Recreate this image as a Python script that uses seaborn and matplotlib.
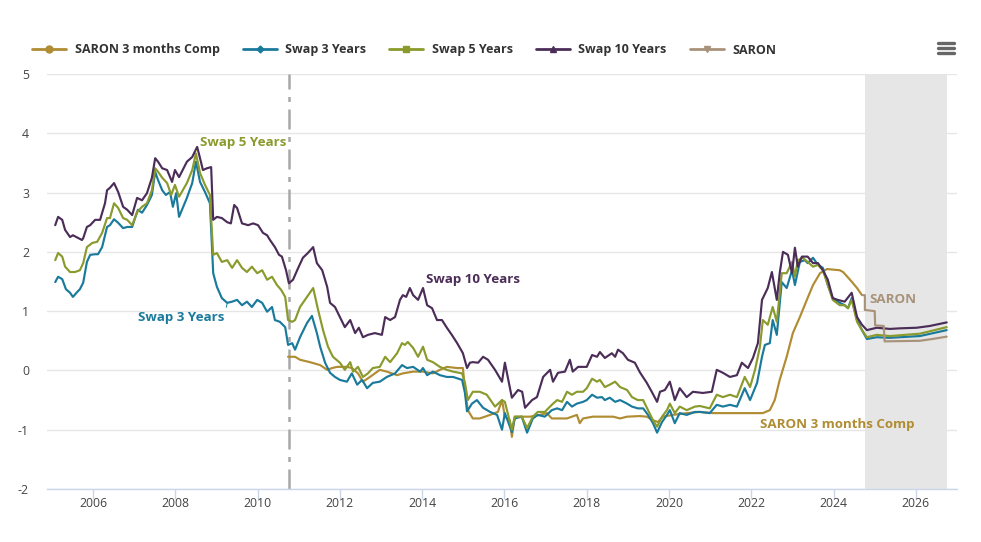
import numpy as np
import pandas as pd
import seaborn as sns
import matplotlib.pyplot as plt
from matplotlib.lines import Line2D

# data (decimal years, %)
swap10_t = [2005.08, 2005.15, 2005.25, 2005.32, 2005.44, 2005.51, 2005.73, 2005.76, 2005.85, 2005.93,
            2006.05, 2006.17, 2006.29, 2006.34, 2006.41, 2006.51, 2006.61, 2006.73, 2006.83, 2006.95,
            2007.07, 2007.19, 2007.31, 2007.43, 2007.51, 2007.58, 2007.68, 2007.80, 2007.92, 2007.99,
            2008.09, 2008.28, 2008.41, 2008.53, 2008.60, 2008.67, 2008.77, 2008.87, 2008.92, 2009.01,
            2009.13, 2009.26, 2009.35, 2009.43, 2009.50, 2009.62, 2009.77, 2009.89, 2010.01, 2010.13,
            2010.23, 2010.30, 2010.42, 2010.52, 2010.59, 2010.69, 2010.76, 2010.86, 2010.98, 2011.10,
            2011.22, 2011.35, 2011.44, 2011.57, 2011.69, 2011.76, 2011.88, 2012.00, 2012.12, 2012.25,
            2012.37, 2012.46, 2012.56, 2012.68, 2012.85, 2013.02, 2013.10, 2013.22, 2013.34, 2013.46,
            2013.53, 2013.61, 2013.70, 2013.78, 2013.90, 2014.02, 2014.12, 2014.24, 2014.36, 2014.48,
            2014.60, 2014.72, 2014.85, 2014.99, 2015.09, 2015.16, 2015.23, 2015.36, 2015.48, 2015.60,
            2015.77, 2015.94, 2016.01, 2016.18, 2016.33, 2016.43, 2016.50, 2016.67, 2016.79, 2016.94,
            2017.11, 2017.18, 2017.30, 2017.47, 2017.59, 2017.66, 2017.79, 2018.00, 2018.13, 2018.25,
            2018.32, 2018.44, 2018.61, 2018.69, 2018.76, 2018.88, 2019.00, 2019.17, 2019.29, 2019.46,
            2019.58, 2019.71, 2019.78, 2019.90, 2020.02, 2020.14, 2020.26, 2020.43, 2020.58, 2020.82,
            2021.04, 2021.16, 2021.31, 2021.48, 2021.65, 2021.77, 2021.92, 2022.04, 2022.16, 2022.26,
            2022.40, 2022.50, 2022.62, 2022.69, 2022.77, 2022.89, 2022.99, 2023.06, 2023.13, 2023.23,
            2023.37, 2023.50, 2023.62, 2023.74, 2023.86, 2023.98, 2024.10, 2024.27, 2024.44, 2024.57,
            2024.69, 2024.81, 2025.05, 2025.37, 2025.61, 2026.02, 2026.34, 2026.75]
swap10_v = [2.45, 2.59, 2.54, 2.37, 2.25, 2.28, 2.20, 2.23, 2.42, 2.45,
            2.54, 2.54, 2.82, 3.04, 3.08, 3.16, 3.01, 2.76, 2.71, 2.62,
            2.91, 2.87, 2.99, 3.25, 3.58, 3.52, 3.41, 3.38, 3.18, 3.38,
            3.26, 3.52, 3.60, 3.77, 3.58, 3.38, 3.41, 3.43, 2.54, 2.59,
            2.57, 2.50, 2.48, 2.79, 2.74, 2.48, 2.45, 2.48, 2.45, 2.32,
            2.28, 2.20, 2.08, 1.95, 1.92, 1.69, 1.47, 1.53, 1.72, 1.90,
            1.98, 2.08, 1.81, 1.69, 1.41, 1.14, 1.07, 0.90, 0.73, 0.85,
            0.63, 0.72, 0.56, 0.60, 0.63, 0.60, 0.90, 0.85, 0.90, 1.19,
            1.27, 1.24, 1.39, 1.27, 1.19, 1.39, 1.10, 1.05, 0.85, 0.85,
            0.72, 0.60, 0.46, 0.29, 0.04, 0.13, 0.14, 0.13, 0.23, 0.18,
            0.01, -0.19, 0.13, -0.46, -0.33, -0.36, -0.63, -0.50, -0.45, -0.11,
            0.01, -0.19, -0.04, -0.02, 0.18, -0.02, 0.06, 0.06, 0.26, 0.23,
            0.31, 0.21, 0.29, 0.23, 0.35, 0.29, 0.18, 0.13, -0.03, -0.21,
            -0.36, -0.53, -0.36, -0.33, -0.19, -0.50, -0.30, -0.45, -0.36, -0.38,
            -0.36, 0.01, -0.04, -0.11, -0.08, 0.13, 0.04, 0.21, 0.46, 1.19,
            1.39, 1.66, 1.19, 1.64, 2.00, 1.95, 1.64, 2.07, 1.75, 1.92,
            1.92, 1.81, 1.81, 1.69, 1.53, 1.22, 1.19, 1.16, 1.31, 0.90,
            0.77, 0.68, 0.72, 0.70, 0.71, 0.72, 0.75, 0.81]

swap5_t = [2005.08, 2005.15, 2005.25, 2005.32, 2005.44, 2005.56, 2005.68, 2005.76, 2005.85, 2005.98,
           2006.10, 2006.22, 2006.34, 2006.41, 2006.51, 2006.61, 2006.73, 2006.83, 2006.95, 2007.07,
           2007.19, 2007.31, 2007.43, 2007.51, 2007.58, 2007.68, 2007.80, 2007.90, 2007.99, 2008.09,
           2008.28, 2008.41, 2008.50, 2008.60, 2008.72, 2008.84, 2008.92, 2009.01, 2009.13, 2009.26,
           2009.38, 2009.50, 2009.62, 2009.74, 2009.86, 2009.99, 2010.11, 2010.23, 2010.35, 2010.47,
           2010.57, 2010.67, 2010.74, 2010.84, 2010.91, 2011.03, 2011.20, 2011.35, 2011.47, 2011.59,
           2011.71, 2011.83, 2012.00, 2012.12, 2012.25, 2012.32, 2012.44, 2012.56, 2012.68, 2012.80,
           2012.97, 2013.10, 2013.22, 2013.39, 2013.51, 2013.58, 2013.65, 2013.78, 2013.90, 2014.02,
           2014.12, 2014.26, 2014.43, 2014.60, 2014.75, 2014.97, 2015.04, 2015.11, 2015.23, 2015.40,
           2015.57, 2015.77, 2015.94, 2016.01, 2016.18, 2016.25, 2016.42, 2016.55, 2016.69, 2016.81,
           2016.98, 2017.15, 2017.28, 2017.40, 2017.52, 2017.64, 2017.76, 2017.91, 2018.00, 2018.13,
           2018.25, 2018.32, 2018.44, 2018.56, 2018.69, 2018.81, 2018.98, 2019.10, 2019.24, 2019.37,
           2019.49, 2019.61, 2019.71, 2019.83, 2019.95, 2020.02, 2020.14, 2020.26, 2020.43, 2020.63,
           2020.75, 2020.99, 2021.16, 2021.31, 2021.48, 2021.65, 2021.84, 2021.97, 2022.09, 2022.21,
           2022.28, 2022.40, 2022.52, 2022.62, 2022.74, 2022.86, 2022.99, 2023.06, 2023.13, 2023.25,
           2023.37, 2023.50, 2023.62, 2023.74, 2023.86, 2023.98, 2024.15, 2024.27, 2024.35, 2024.44,
           2024.57, 2024.69, 2024.81, 2025.05, 2025.37, 2026.10, 2026.75]
swap5_v = [1.86, 1.98, 1.92, 1.75, 1.66, 1.66, 1.69, 1.81, 2.08, 2.15,
           2.17, 2.32, 2.57, 2.57, 2.82, 2.74, 2.57, 2.54, 2.45, 2.67,
           2.76, 2.82, 3.04, 3.41, 3.35, 3.25, 3.16, 2.96, 3.13, 2.93,
           3.16, 3.38, 3.66, 3.33, 3.13, 2.96, 1.95, 1.98, 1.83, 1.86,
           1.73, 1.86, 1.73, 1.66, 1.75, 1.64, 1.69, 1.53, 1.58, 1.44,
           1.36, 1.24, 0.85, 0.82, 0.85, 1.07, 1.24, 1.39, 1.02, 0.68,
           0.40, 0.23, 0.13, 0.01, 0.14, -0.02, 0.06, -0.11, -0.05, 0.04,
           0.06, 0.23, 0.14, 0.29, 0.46, 0.43, 0.48, 0.38, 0.23, 0.40,
           0.18, 0.14, 0.06, 0.01, -0.02, -0.05, -0.21, -0.50, -0.36, -0.36,
           -0.41, -0.61, -0.50, -0.53, -1.00, -0.78, -0.78, -0.97, -0.78, -0.70,
           -0.70, -0.58, -0.50, -0.53, -0.36, -0.41, -0.36, -0.36, -0.30, -0.14,
           -0.19, -0.16, -0.28, -0.24, -0.19, -0.28, -0.33, -0.45, -0.50, -0.50,
           -0.67, -0.84, -0.95, -0.78, -0.67, -0.56, -0.72, -0.61, -0.67, -0.61,
           -0.60, -0.64, -0.41, -0.45, -0.41, -0.45, -0.11, -0.28, 0.01, 0.40,
           0.85, 0.77, 1.07, 0.82, 1.64, 1.64, 1.83, 1.58, 1.86, 1.90,
           1.83, 1.75, 1.78, 1.69, 1.44, 1.19, 1.10, 1.10, 1.05, 1.19,
           0.82, 0.68, 0.56, 0.60, 0.58, 0.62, 0.73]

swap3_t = [2005.08, 2005.15, 2005.25, 2005.34, 2005.44, 2005.51, 2005.61, 2005.68, 2005.76, 2005.85,
           2005.93, 2006.05, 2006.12, 2006.22, 2006.34, 2006.41, 2006.51, 2006.61, 2006.73, 2006.83,
           2006.95, 2007.02, 2007.09, 2007.19, 2007.31, 2007.43, 2007.51, 2007.58, 2007.68, 2007.77,
           2007.87, 2007.94, 2008.02, 2008.09, 2008.28, 2008.41, 2008.50, 2008.60, 2008.72, 2008.84,
           2008.92, 2009.01, 2009.13, 2009.26, 2009.38, 2009.50, 2009.62, 2009.74, 2009.86, 2009.99,
           2010.11, 2010.23, 2010.35, 2010.42, 2010.54, 2010.67, 2010.74, 2010.84, 2010.91, 2011.03,
           2011.20, 2011.32, 2011.44, 2011.52, 2011.64, 2011.76, 2011.88, 2012.00, 2012.17, 2012.29,
           2012.42, 2012.54, 2012.66, 2012.80, 2012.97, 2013.14, 2013.34, 2013.51, 2013.63, 2013.78,
           2013.95, 2014.02, 2014.12, 2014.26, 2014.43, 2014.60, 2014.75, 2014.97, 2015.04, 2015.09,
           2015.21, 2015.33, 2015.48, 2015.65, 2015.82, 2015.94, 2016.01, 2016.18, 2016.25, 2016.42,
           2016.55, 2016.69, 2016.81, 2016.98, 2017.15, 2017.28, 2017.40, 2017.52, 2017.64, 2017.76,
           2017.91, 2018.00, 2018.13, 2018.25, 2018.37, 2018.44, 2018.56, 2018.69, 2018.81, 2018.98,
           2019.10, 2019.24, 2019.37, 2019.49, 2019.61, 2019.71, 2019.83, 2019.95, 2020.02, 2020.14,
           2020.26, 2020.43, 2020.63, 2020.75, 2020.99, 2021.16, 2021.31, 2021.48, 2021.65, 2021.84,
           2021.97, 2022.14, 2022.26, 2022.33, 2022.45, 2022.52, 2022.62, 2022.74, 2022.86, 2022.99,
           2023.06, 2023.18, 2023.30, 2023.37, 2023.50, 2023.62, 2023.74, 2023.86, 2023.98, 2024.15,
           2024.27, 2024.35, 2024.44, 2024.57, 2024.69, 2024.81, 2025.05, 2025.37, 2026.10, 2026.75]
swap3_v = [1.49, 1.58, 1.54, 1.37, 1.31, 1.24, 1.32, 1.37, 1.48, 1.83,
           1.95, 1.96, 1.96, 2.08, 2.42, 2.45, 2.55, 2.49, 2.40, 2.42,
           2.42, 2.57, 2.71, 2.66, 2.79, 2.96, 3.35, 3.21, 3.04, 2.96,
           3.01, 2.76, 2.99, 2.59, 2.91, 3.16, 3.52, 3.18, 3.01, 2.82,
           1.64, 1.41, 1.22, 1.14, 1.16, 1.19, 1.10, 1.16, 1.07, 1.19,
           1.14, 0.99, 1.07, 0.85, 0.82, 0.73, 0.43, 0.46, 0.35, 0.56,
           0.80, 0.92, 0.63, 0.40, 0.13, -0.04, -0.11, -0.16, -0.19, -0.05,
           -0.24, -0.16, -0.30, -0.21, -0.19, -0.11, -0.05, 0.09, 0.04, 0.06,
           -0.02, 0.04, -0.08, -0.02, -0.08, -0.11, -0.11, -0.16, -0.38, -0.69,
           -0.56, -0.50, -0.63, -0.70, -0.75, -1.00, -0.72, -1.04, -0.81, -0.78,
           -1.05, -0.81, -0.75, -0.78, -0.67, -0.64, -0.67, -0.53, -0.61, -0.56,
           -0.53, -0.50, -0.41, -0.46, -0.45, -0.50, -0.46, -0.53, -0.50, -0.56,
           -0.61, -0.64, -0.64, -0.75, -0.89, -1.05, -0.87, -0.75, -0.67, -0.89,
           -0.72, -0.75, -0.70, -0.70, -0.72, -0.58, -0.61, -0.58, -0.61, -0.30,
           -0.50, -0.21, 0.23, 0.43, 0.46, 0.85, 0.60, 1.49, 1.39, 1.69,
           1.44, 1.83, 1.86, 1.81, 1.90, 1.78, 1.73, 1.44, 1.22, 1.14,
           1.10, 1.05, 1.22, 0.85, 0.68, 0.53, 0.56, 0.55, 0.58, 0.68]

saron3m_t = [2010.74, 2010.91, 2011.03, 2011.27, 2011.52, 2011.69, 2011.81, 2011.93, 2012.17, 2012.29,
             2012.44, 2012.56, 2012.73, 2012.97, 2013.14, 2013.39, 2013.53, 2013.78, 2014.02, 2014.26,
             2014.43, 2014.60, 2014.85, 2014.99, 2015.04, 2015.11, 2015.23, 2015.40, 2015.65, 2015.84,
             2015.94, 2016.01, 2016.13, 2016.18, 2016.25, 2016.62, 2016.86, 2017.03, 2017.15, 2017.52,
             2017.76, 2017.83, 2017.91, 2018.15, 2018.64, 2018.81, 2018.98, 2019.29, 2019.46, 2019.61,
             2019.73, 2019.85, 2020.09, 2020.44, 2020.75, 2021.07, 2022.28, 2022.45, 2022.57, 2022.69,
             2022.86, 2023.01, 2023.18, 2023.35, 2023.50, 2023.67, 2023.84, 2024.15, 2024.23, 2024.40,
             2024.57, 2024.69]
saron3m_v = [0.23, 0.23, 0.18, 0.14, 0.09, 0.01, 0.04, 0.06, 0.06, 0.04,
             -0.05, -0.19, -0.11, 0.01, -0.02, -0.08, -0.05, -0.02, -0.02, -0.05,
             0.01, 0.06, 0.04, 0.04, -0.33, -0.67, -0.81, -0.81, -0.75, -0.70,
             -0.50, -0.78, -0.84, -1.12, -0.78, -0.78, -0.75, -0.72, -0.81, -0.81,
             -0.75, -0.89, -0.81, -0.78, -0.78, -0.81, -0.78, -0.77, -0.78, -0.84,
             -0.87, -0.78, -0.75, -0.72, -0.70, -0.72, -0.72, -0.67, -0.50, -0.16,
             0.23, 0.63, 0.90, 1.19, 1.44, 1.64, 1.71, 1.69, 1.66, 1.53,
             1.39, 1.27]

saron_t = [2024.71, 2024.76, 2024.76, 2025.00, 2025.01, 2025.22, 2025.24, 2026.10, 2026.40, 2026.75]
saron_v = [1.27, 1.27, 1.02, 1.00, 0.76, 0.75, 0.49, 0.50, 0.53, 0.57]

year_ticks = [2006, 2008, 2010, 2012, 2014, 2016, 2018, 2020, 2022, 2024, 2026]
y_ticks = [-2, -1, 0, 1, 2, 3, 4, 5]

c_saron3m = "#b08c32"
c_swap3 = "#1a7a9c"
c_swap5 = "#8a9a2c"
c_swap10 = "#4b2d58"
c_saron = "#a8927a"

sns.set_theme(style="white")
plt.rcParams['font.family'] = ['Open Sans', 'DejaVu Sans']

fig = plt.figure(figsize=(9.81, 5.42), dpi=100)
ax = fig.add_axes([47 / 981, 53 / 542, 910 / 981, 415 / 542])

ax.set_axisbelow(True)
ax.grid(axis="y", color="#e6e6e6", linewidth=1)
ax.axvspan(2024.76, 2026.75, color="#e6e6e6", zorder=0.8, linewidth=0)

series = [
    (saron3m_t, saron3m_v, c_saron3m),
    (swap3_t, swap3_v, c_swap3),
    (swap5_t, swap5_v, c_swap5),
    (swap10_t, swap10_v, c_swap10),
    (saron_t, saron_v, c_saron),
]
for t, v, col in series:
    sns.lineplot(x=t, y=v, ax=ax, color=col, linewidth=1.55, estimator=None, sort=False, zorder=2)

ax.axvline(2010.76, color="#a8a8a8", linewidth=1.8, linestyle=(0, (8, 3, 2, 3)), zorder=1.5)

ax.set_xlim(2004.88, 2027.0)
ax.set_ylim(-2, 5)
ax.set_xticks(year_ticks)
ax.set_xticklabels([str(y) for y in year_ticks])
ax.set_yticks(y_ticks)
ax.set_yticklabels([str(y) for y in y_ticks])
ax.tick_params(axis="y", length=0, pad=13, labelsize=8.8, labelcolor="#444444")
ax.tick_params(axis="x", length=7, width=1, color="#ccd6eb", pad=-1, labelsize=8.8,
               labelcolor="#444444", bottom=True, direction="out")
for s in ["top", "right", "left"]:
    ax.spines[s].set_visible(False)
ax.spines["bottom"].set_color("#ccd6eb")
ax.spines["bottom"].set_linewidth(1)
ax.set_xlabel("")
ax.set_ylabel("")

# series labels
lab = dict(fontsize=9.6, fontweight="bold")
ax.annotate("Swap 5 Years", xy=(2008.5, 3.7), xytext=(2008.6, 3.84), color=c_swap5,
            va="center", ha="left",
            arrowprops=dict(arrowstyle="-", color=c_swap5, lw=0.7, relpos=(0, 0.2),
                            shrinkA=0, shrinkB=0), **lab)
ax.annotate("Swap 3 Years", xy=(2009.26, 1.13), xytext=(2009.2, 0.9), color=c_swap3,
            va="center", ha="right",
            arrowprops=dict(arrowstyle="-", color=c_swap3, lw=0.7, relpos=(1, 0.8),
                            shrinkA=0, shrinkB=0), **lab)
ax.annotate("Swap 10 Years", xy=(2014.02, 1.36), xytext=(2014.1, 1.54), color=c_swap10,
            va="center", ha="left",
            arrowprops=dict(arrowstyle="-", color=c_swap10, lw=0.7, relpos=(0, 0.2),
                            shrinkA=0, shrinkB=0), **lab)
ax.text(2024.88, 1.19, "SARON", color=c_saron, va="center", ha="left", **lab)
ax.text(2022.2, -0.92, "SARON 3 months Comp", color=c_saron3m, va="center", ha="left", **lab)

# legend
handles = [
    Line2D([], [], color=c_saron3m, lw=2, marker="o", markersize=5),
    Line2D([], [], color=c_swap3, lw=2, marker="D", markersize=3.5),
    Line2D([], [], color=c_swap5, lw=2, marker="s", markersize=5),
    Line2D([], [], color=c_swap10, lw=2, marker="^", markersize=5),
    Line2D([], [], color=c_saron, lw=2, marker="v", markersize=5),
]
names = ["SARON 3 months Comp", "Swap 3 Years", "Swap 5 Years", "Swap 10 Years", "SARON"]
leg = fig.legend(handles, names, loc="center left", bbox_to_anchor=(26 / 981, 1 - 50 / 542),
                 ncol=5, frameon=False, borderpad=0, handlelength=2.7, handletextpad=0.7,
                 columnspacing=1.85, prop={"family": "Open Sans", "weight": "bold", "size": 9})
for t in leg.get_texts():
    t.set_color("#333333")

# menu icon
for yy in (43, 48, 53):
    fig.add_artist(Line2D([938 / 981, 954 / 981], [1 - yy / 542] * 2, color="#666666",
                          lw=2.4, solid_capstyle="round"))

fig.savefig("out.png", dpi=100)
